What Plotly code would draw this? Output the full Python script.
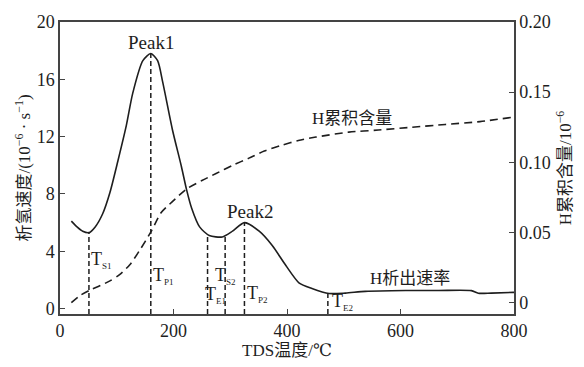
import plotly.graph_objects as go

# TDS hydrogen desorption: rate curve (left axis) and cumulative content (right axis)
temp_rate = [20, 30, 40, 51, 62, 75, 88, 102, 117, 128, 146, 160, 172, 181, 198, 214,
             223, 232, 246, 263, 286, 304, 325, 351, 374, 398, 421, 444, 474, 503,
             538, 609, 667, 725, 737, 760, 800]
rate = [6.1, 5.7, 5.4, 5.3, 5.7, 6.6, 8.1, 10.3, 12.8, 15.0, 17.3, 17.8, 17.3, 15.8,
        12.5, 9.9, 8.3, 7.0, 5.7, 5.1, 5.0, 5.4, 6.0, 5.4, 4.4, 3.0, 1.8, 1.4, 1.05,
        1.08, 1.2, 1.26, 1.26, 1.25, 1.07, 1.08, 1.13]

temp_cum = [20, 35, 53, 70, 88, 105, 123, 140, 161, 178, 198, 223, 250, 275, 305,
            333, 360, 391, 420, 451, 509, 561, 620, 679, 740, 795]
cum = [0.0, 0.005, 0.009, 0.012, 0.0155, 0.020, 0.027, 0.037, 0.051, 0.064, 0.072,
       0.081, 0.087, 0.092, 0.098, 0.103, 0.108, 0.1122, 0.1155, 0.118, 0.1215, 0.123,
       0.125, 0.127, 0.129, 0.132]

# characteristic temperatures and the rate at each one
event_names = ["S1", "P1", "E1", "S2", "P2", "E2"]
event_temps = [51, 160, 260, 291, 325, 472]
event_rates = [5.3, 17.8, 5.1, 5.0, 6.0, 1.05]

x_ticks = [0, 200, 400, 600, 800]
y_ticks = [0, 4, 8, 12, 16, 20]
y2_ticks = [0, 0.05, 0.10, 0.15, 0.20]
y2_ticktext = ["0", "0.05", "0.10", "0.15", "0.20"]

FONT = "Times New Roman, Liberation Serif, DejaVu Serif, Noto Sans CJK SC"
INK = "#1e1e1e"
AX = "#444444"
Y_BOTTOM = -0.38

fig = go.Figure()

for t, r in zip(event_temps, event_rates):
    fig.add_trace(go.Scatter(
        x=[t, t], y=[Y_BOTTOM, r], mode="lines",
        line=dict(color=INK, width=1.5, dash="5px,3px"),
        showlegend=False, hoverinfo="skip"))

fig.add_trace(go.Scatter(
    x=temp_rate, y=rate, mode="lines", name="H析出速率",
    line=dict(color=INK, width=1.6, shape="spline", smoothing=0.7),
    showlegend=False))

fig.add_trace(go.Scatter(
    x=temp_cum, y=cum, mode="lines", name="H累积含量", yaxis="y2",
    line=dict(color=INK, width=1.6, dash="8px,5px", shape="spline", smoothing=0.7),
    showlegend=False))

annotations = [
    dict(x=161, y=18.6, text="Peak1", xanchor="center", yanchor="middle", size=19),
    dict(x=335, y=6.75, text="Peak2", xanchor="center", yanchor="middle", size=19),
    dict(x=514, y=13.3, text="H累积含量", xanchor="center", yanchor="middle", size=17),
    dict(x=616, y=2.1, text="H析出速率", xanchor="center", yanchor="middle", size=17),
]

# label placement for each characteristic temperature: (y, x offset px, anchor)
label_pos = {
    "S1": (3.4, 0, "left"),
    "P1": (2.25, 0, "left"),
    "E1": (0.93, 8, "center"),
    "S2": (2.25, 0, "center"),
    "P2": (1.0, 1, "left"),
    "E2": (0.45, 2, "left"),
}
for name, t in zip(event_names, event_temps):
    ly, dx, anchor = label_pos[name]
    annotations.append(dict(
        x=t, y=ly, xshift=dx, xanchor=anchor, yanchor="middle", size=18,
        text=f"T<sub><span style='font-size:9px'>{name}</span></sub>"))

for a in annotations:
    size = a.pop("size")
    a.update(xref="x", yref="y", showarrow=False,
             font=dict(family=FONT, size=size, color=INK))

axis_common = dict(
    showgrid=False, zeroline=False, showline=True, linecolor=AX, linewidth=1.5,
    ticks="inside", ticklen=5, tickwidth=1.2, tickcolor=AX,
    tickfont=dict(family=FONT, size=18, color=INK),
)

fig.update_layout(
    width=584, height=367,
    margin=dict(l=60, r=68, t=17, b=42),
    paper_bgcolor="white", plot_bgcolor="white",
    font=dict(family=FONT, color=INK),
    annotations=annotations,
    xaxis=dict(range=[0, 800], tickvals=x_ticks, mirror=True,
               title=dict(text="TDS温度/℃", font=dict(family=FONT, size=17, color=INK),
                          standoff=2),
               **axis_common),
    yaxis=dict(range=[Y_BOTTOM, 20], tickvals=y_ticks,
               title=dict(text="析氢速度/(10<sup>−6</sup> · s<sup>−1</sup>)",
                          font=dict(family=FONT, size=17, color=INK), standoff=2),
               **axis_common),
    yaxis2=dict(range=[-0.0081, 0.2], tickvals=y2_ticks, ticktext=y2_ticktext,
                overlaying="y", side="right",
                title=dict(text="H累积含量/10<sup>−6</sup>",
                           font=dict(family=FONT, size=17, color=INK), standoff=9),
                **axis_common),
)

fig.write_html("out.html")
